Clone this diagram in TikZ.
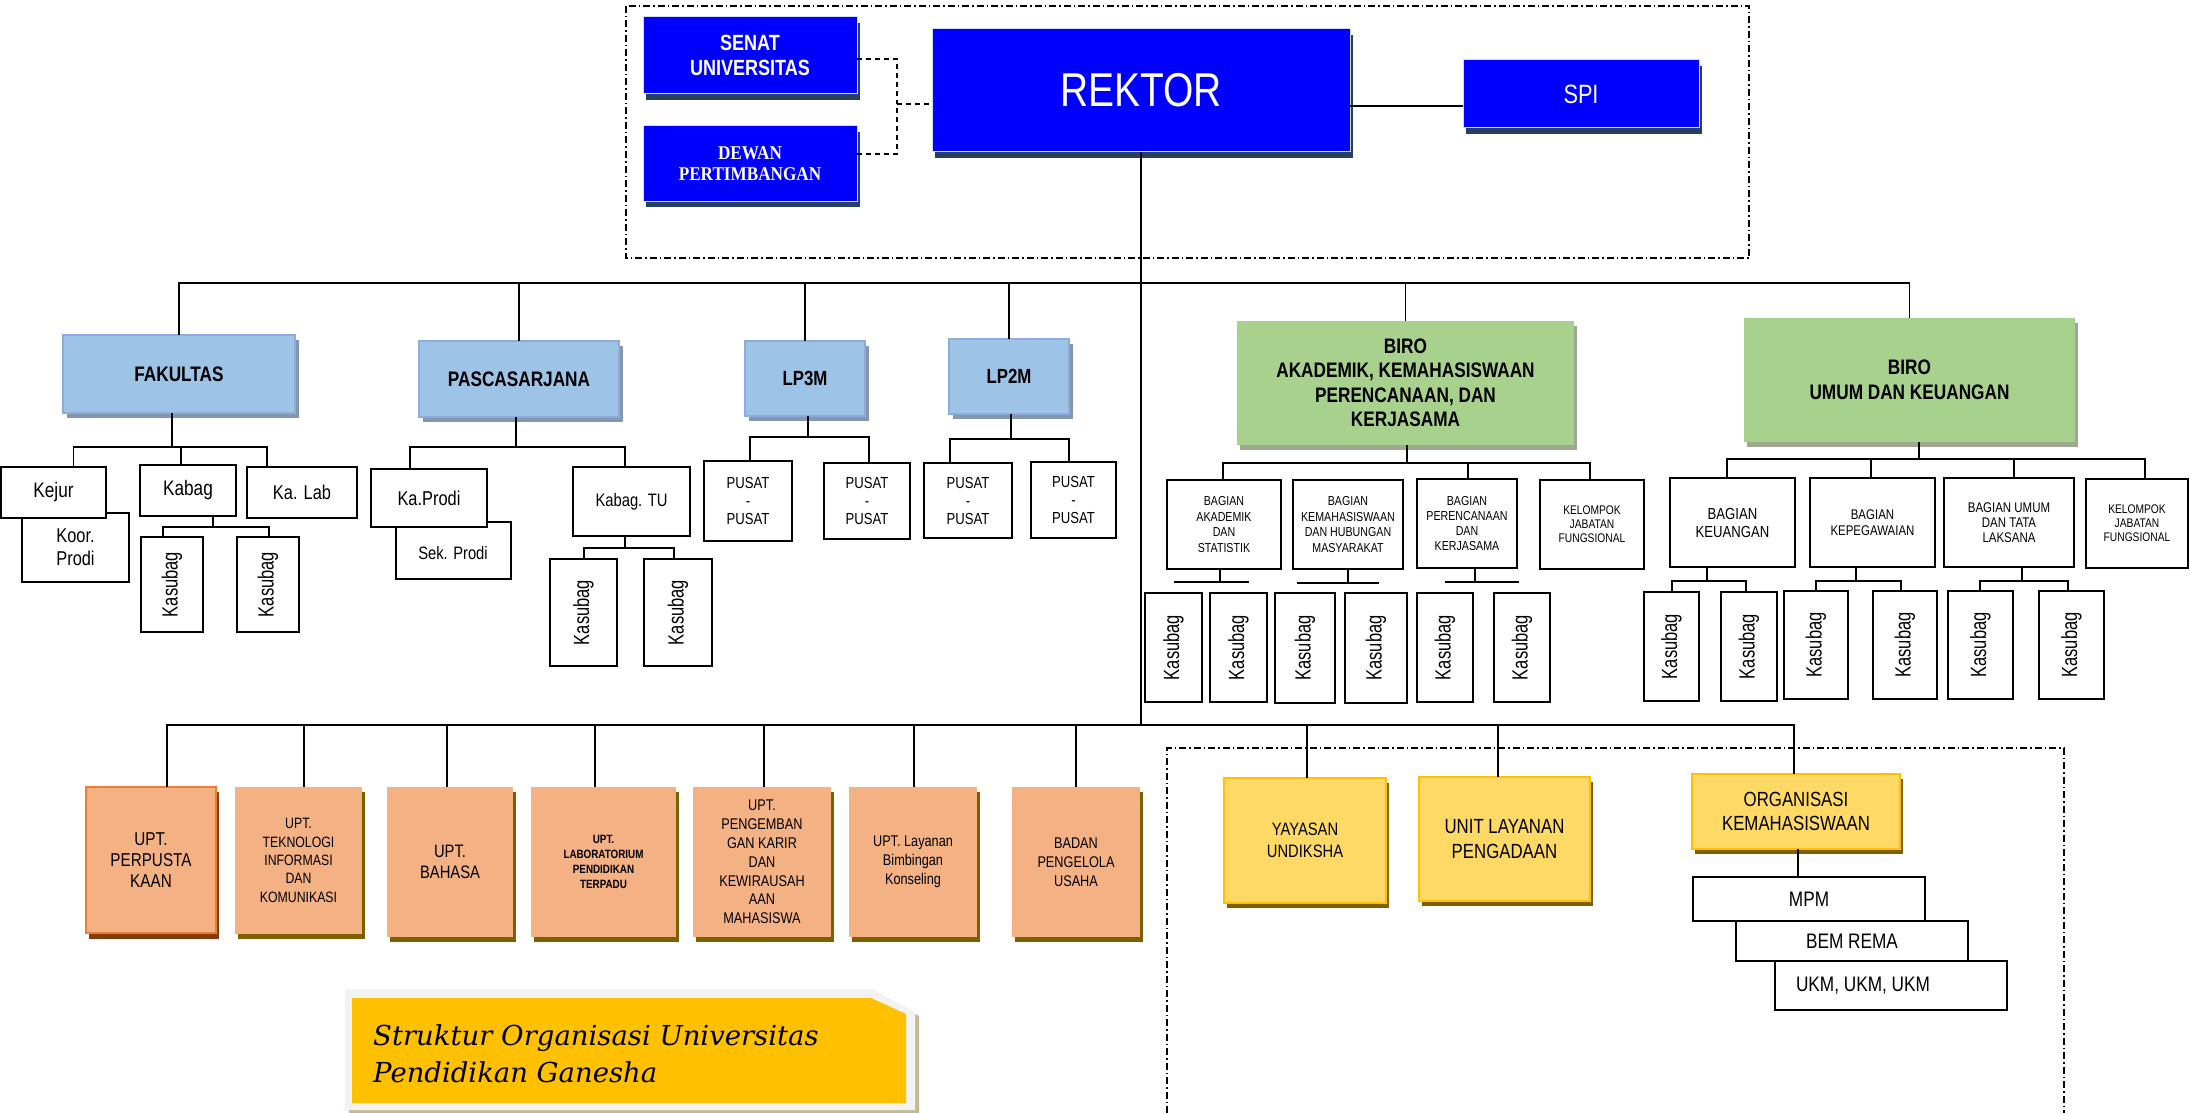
\documentclass[tikz,border=0pt]{standalone}
\usepackage{fontspec}
\usepackage{graphicx}
\setmainfont{Liberation Sans}
\newfontfamily\nar[FakeStretch=0.82]{Liberation Sans}
\newfontfamily\narr[FakeStretch=0.75]{Liberation Sans}
\newfontfamily\tmsn[FakeStretch=0.88]{Liberation Serif}
\newfontfamily\ttlf{DejaVu Serif}
\usetikzlibrary{shadows}
\newcommand\fsz[2]{\fontsize{#1}{#2}\selectfont}
\newcommand\bx[7]{\node[#2, minimum width={#5-#3}, minimum height={#6-#4}] (#1) at ({(#3+#5)/2},{(#4+#6)/2}) {#7};}
\newcommand\ksb{\rotatebox{90}{\narr\fsz{22}{24}Kasubag}}
\definecolor{bluefill}{HTML}{0000FF}
\definecolor{blueedge}{HTML}{D5DBF2}
\definecolor{blueshd}{HTML}{243F60}
\definecolor{lbfill}{HTML}{9DC3E6}
\definecolor{lbedge}{HTML}{8FAADC}
\definecolor{lbshd}{HTML}{8497B0}
\definecolor{grfill}{HTML}{A9D18E}
\definecolor{grshd}{HTML}{9DA890}
\definecolor{orfill}{HTML}{F4B183}
\definecolor{orshd}{HTML}{7F6000}
\definecolor{oroneedge}{HTML}{ED7D31}
\definecolor{oroneshd}{HTML}{843C0C}
\definecolor{yefill}{HTML}{FFD966}
\definecolor{yeedge}{HTML}{FFC000}
\definecolor{titlegrey}{HTML}{F2F2F2}
\definecolor{titleyel}{HTML}{FFC000}
\definecolor{titleshd}{HTML}{C9B98F}
\begin{document}
\begin{tikzpicture}[x=1pt,y=-1pt,
  base/.style={inner sep=0pt, outer sep=0pt, align=center},
  wb/.style={base, draw=black, line width=1.8pt, fill=white, font=\nar\fsz{21}{24}},
  bluebox/.style={base, fill=bluefill, draw=blueedge, line width=1pt, text=white,
    general shadow={fill=blueshd, shadow xshift=3pt, shadow yshift=-6pt}},
  lbbox/.style={base, fill=lbfill, draw=lbedge, line width=2.2pt, font=\nar\bfseries\fsz{21}{24},
    general shadow={fill=lbshd, shadow xshift=4pt, shadow yshift=-5pt}},
  grbox/.style={base, fill=grfill, font=\nar\bfseries\fsz{21}{24.5},
    general shadow={fill=grshd, shadow xshift=3pt, shadow yshift=-5pt}},
  orbox/.style={base, fill=orfill, font=\nar\fsz{15.5}{19},
    general shadow={fill=orshd, shadow xshift=3pt, shadow yshift=-5pt}},
  yebox/.style={base, fill=yefill, draw=yeedge, line width=2.4pt, font=\nar\fsz{20.5}{25},
    general shadow={fill=orshd, shadow xshift=3pt, shadow yshift=-5pt}},
  ln/.style={draw=black, line width=1.5pt},
  dsh/.style={draw=black, line width=2pt, dash pattern=on 5pt off 4pt},
  ddot/.style={draw=black, line width=1.5pt, dash pattern=on 7pt off 3pt on 1.5pt off 3pt}]
\useasboundingbox (0,0) rectangle (2190,1113);

% ---------- top frame ----------
\draw[ddot] (626,6) rectangle (1749,258);
\bx{senat}{bluebox, font=\nar\bfseries\fsz{22}{25}}{643}{17}{857}{94}{SENAT\\UNIVERSITAS}
\bx{dewan}{bluebox, font=\tmsn\bfseries\fsz{19.5}{21.5}}{643}{126}{857}{201}{DEWAN\\PERTIMBANGAN}
\bx{rektor}{bluebox, font=\nar\fsz{47.5}{50}}{932}{29}{1350}{152}{REKTOR}
\bx{spi}{bluebox, font=\nar\fsz{26.5}{28}}{1463}{60}{1699}{128}{SPI}
\coordinate (dj) at (897,104);
\draw[dsh] ([yshift=-3.5pt]senat.east) -| (dj);
\draw[dsh] ([yshift=9.5pt]dewan.east) -| (dj);
\draw[dsh] (dj) -- (dj -| rektor.west);
\draw[ln] ([yshift=-12pt]spi.west) -- ([yshift=-12pt]spi.west -| rektor.east);

% ---------- second level ----------
\bx{fak}{lbbox}{63}{335}{295}{413}{FAKULTAS}
\bx{pasca}{lbbox}{419}{341}{619}{417}{PASCASARJANA}
\bx{lpthree}{lbbox, font=\nar\bfseries\fsz{20.5}{24}}{745}{341}{865}{416}{LP3M}
\bx{lptwo}{lbbox, font=\nar\bfseries\fsz{20.5}{24}}{949}{339}{1069}{414}{LP2M}
\bx{biroA}{grbox}{1237}{321}{1574}{445}{BIRO\\AKADEMIK, KEMAHASISWAAN\\PERENCANAAN, DAN\\KERJASAMA}
\bx{biroU}{grbox}{1744}{318}{2075}{442}{BIRO\\UMUM DAN KEUANGAN}

\coordinate (busT) at (0,283);
\draw[ln] (fak.north) -- (fak.north |- busT) -- (biroU.north |- busT) -- (biroU.north);
\foreach \n in {pasca,lpthree,lptwo,biroA} \draw[ln] (\n.north) -- (\n.north |- busT);
\coordinate (busB) at (0,725);
\draw[ln] (rektor.south) -- (rektor.south |- busB);

% ---------- Fakultas ----------
\bx{koor}{wb, font=\nar\fsz{20}{23}}{22}{513}{129}{582}{Koor.\\Prodi}
\bx{kejur}{wb}{1}{467}{106}{518}{Kejur}
\bx{kabag}{wb}{140}{465}{236}{516}{Kabag}
\bx{kalab}{wb, font=\nar\fsz{20}{23}}{247}{467}{357}{518}{Ka. Lab}
\bx{ksa}{wb}{141}{537}{203}{632}{\ksb}
\bx{ksb}{wb}{237}{537}{299}{632}{\ksb}
\coordinate (fb) at (0,447);
\draw[ln] ([xshift=-7pt]fak.south) -- ([xshift=-7pt]fak.south |- fb);
\draw[ln] ([xshift=20pt]kejur.north) -- ([xshift=20pt]kejur.north |- fb) -- ([xshift=-35pt]kalab.north |- fb) -- ([xshift=-35pt]kalab.north);
\draw[ln] ([xshift=-7pt]kabag.north) -- ([xshift=-7pt]kabag.north |- fb);
\coordinate (kb) at (0,527);
\draw[ln] ([xshift=25pt]kabag.south) -- ([xshift=25pt]kabag.south |- kb);
\draw[ln] ([xshift=-9pt]ksa.north) -- ([xshift=-9pt]ksa.north |- kb) -- ([xshift=1pt]ksb.north |- kb) -- ([xshift=1pt]ksb.north);

% ---------- Pascasarjana ----------
\bx{sek}{wb}{396}{522}{511}{579}{}
\node[base, font=\nar\fsz{18}{20}] (sekT) at (453,553) {Sek. Prodi};
\bx{kaprodi}{wb, font=\nar\fsz{20}{23}}{371}{469}{487}{527}{Ka.Prodi}
\bx{kabagtu}{wb, font=\nar\fsz{18}{20}}{573}{467}{690}{536}{Kabag. TU}
\bx{ksc}{wb}{550}{559}{617}{666}{\ksb}
\bx{ksd}{wb}{644}{559}{712}{666}{\ksb}
\coordinate (pb) at (0,447);
\draw[ln] ([xshift=-3pt]pasca.south) -- ([xshift=-3pt]pasca.south |- pb);
\draw[ln] ([xshift=-19pt]kaprodi.north) -- ([xshift=-19pt]kaprodi.north |- pb) -- ([xshift=-6.5pt]kabagtu.north |- pb) -- ([xshift=-6.5pt]kabagtu.north);
\coordinate (tb) at (0,548);
\draw[ln] ([xshift=-6.5pt]kabagtu.south) -- ([xshift=-6.5pt]kabagtu.south |- tb);
\draw[ln] ([xshift=0.5pt]ksc.north) -- ([xshift=0.5pt]ksc.north |- tb) -- ([xshift=-4pt]ksd.north |- tb) -- ([xshift=-4pt]ksd.north);

% ---------- LP3M / LP2M ----------
\bx{pa}{wb, font=\nar\fsz{16}{18}}{704}{461}{792}{541}{PUSAT\\-\\PUSAT}
\bx{pb}{wb, font=\nar\fsz{16}{18}}{824}{463}{910}{539}{PUSAT\\-\\PUSAT}
\bx{pc}{wb, font=\nar\fsz{16}{18}}{924}{463}{1012}{538}{PUSAT\\-\\PUSAT}
\bx{pd}{wb, font=\nar\fsz{16}{18}}{1031}{462}{1116}{538}{PUSAT\\-\\PUSAT}
\coordinate (l3b) at (0,437);
\draw[ln] ([xshift=3pt]lpthree.south) -- ([xshift=3pt]lpthree.south |- l3b);
\draw[ln] ([xshift=2pt]pa.north) -- ([xshift=2pt]pa.north |- l3b) -- ([xshift=2pt]pb.north |- l3b) -- ([xshift=2pt]pb.north);
\coordinate (l2b) at (0,439);
\draw[ln] ([xshift=2pt]lptwo.south) -- ([xshift=2pt]lptwo.south |- l2b);
\draw[ln] ([xshift=-18pt]pc.north) -- ([xshift=-18pt]pc.north |- l2b) -- ([xshift=-4.5pt]pd.north |- l2b) -- ([xshift=-4.5pt]pd.north);

% ---------- Biro Akademik ----------
\bx{bAa}{wb, font=\nar\fsz{13}{15.5}}{1167}{480}{1281}{569}{BAGIAN\\AKADEMIK\\DAN\\STATISTIK}
\bx{bAb}{wb, font=\nar\fsz{13}{15.5}}{1293}{480}{1403}{569}{BAGIAN\\KEMAHASISWAAN\\DAN HUBUNGAN\\MASYARAKAT}
\bx{bAc}{wb, font=\nar\fsz{13}{15}}{1417}{479}{1517}{568}{BAGIAN\\PERENCANAAN\\DAN\\KERJASAMA}
\bx{bAd}{wb, font=\nar\fsz{12.5}{14}}{1540}{480}{1644}{569}{KELOMPOK\\JABATAN\\FUNGSIONAL}
\coordinate (ab) at (0,463);
\draw[ln] ([xshift=1.5pt]biroA.south) -- ([xshift=1.5pt]biroA.south |- ab);
\draw[ln] ([xshift=-1pt]bAa.north) -- ([xshift=-1pt]bAa.north |- ab) -- ([xshift=-2pt]bAd.north |- ab) -- ([xshift=-2pt]bAd.north);
\draw[ln] ([xshift=1pt]bAc.north) -- ([xshift=1pt]bAc.north |- ab);
\draw[ln] ([xshift=-4pt]bAa.south) -- ++(0,13) coordinate (hA1);
\draw[ln] ([xshift=-46pt]hA1) -- ([xshift=29pt]hA1);
\draw[ln] (bAb.south) -- ++(0,14) coordinate (hA2);
\draw[ln] ([xshift=-51pt]hA2) -- ([xshift=31pt]hA2);
\draw[ln] ([xshift=8pt]bAc.south) -- ++(0,14) coordinate (hA3);
\draw[ln] ([xshift=-30pt]hA3) -- ([xshift=44pt]hA3);
\bx{kAa}{wb}{1145}{593}{1202}{702}{\ksb}
\bx{kAb}{wb}{1210}{593}{1267}{702}{\ksb}
\bx{kAc}{wb}{1275}{593}{1335}{703}{\ksb}
\bx{kAd}{wb}{1345}{593}{1407}{703}{\ksb}
\bx{kAe}{wb}{1417}{593}{1473}{702}{\ksb}
\bx{kAf}{wb}{1494}{593}{1550}{702}{\ksb}

% ---------- Biro Umum ----------
\bx{bUa}{wb, font=\nar\fsz{16}{18}}{1670}{478}{1795}{567}{BAGIAN\\KEUANGAN}
\bx{bUb}{wb, font=\nar\fsz{14}{16}}{1810}{478}{1935}{567}{BAGIAN\\KEPEGAWAIAN}
\bx{bUc}{wb, font=\nar\fsz{14}{15}}{1944}{478}{2074}{567}{BAGIAN UMUM\\DAN TATA\\LAKSANA}
\bx{bUd}{wb, font=\nar\fsz{12.5}{14}}{2086}{479}{2188}{568}{KELOMPOK\\JABATAN\\FUNGSIONAL}
\coordinate (ub) at (0,459);
\draw[ln] ([xshift=9.5pt]biroU.south) -- ([xshift=9.5pt]biroU.south |- ub);
\draw[ln] ([xshift=-5.5pt]bUa.north) -- ([xshift=-5.5pt]bUa.north |- ub) -- ([xshift=8pt]bUd.north |- ub) -- ([xshift=8pt]bUd.north);
\draw[ln] ([xshift=-1.5pt]bUb.north) -- ([xshift=-1.5pt]bUb.north |- ub);
\draw[ln] ([xshift=5pt]bUc.north) -- ([xshift=5pt]bUc.north |- ub);
\bx{kUa}{wb}{1644}{592}{1699}{701}{\ksb}
\bx{kUb}{wb}{1721}{592}{1777}{701}{\ksb}
\bx{kUc}{wb}{1784}{591}{1848}{699}{\ksb}
\bx{kUd}{wb}{1873}{591}{1937}{699}{\ksb}
\bx{kUe}{wb}{1948}{591}{2013}{699}{\ksb}
\bx{kUf}{wb}{2039}{591}{2104}{699}{\ksb}
\coordinate (kub) at (0,581);
\draw[ln] ([xshift=-25.5pt]bUa.south) -- ([xshift=-25.5pt]bUa.south |- kub);
\draw[ln] ([xshift=0.5pt]kUa.north) -- ([xshift=0.5pt]kUa.north |- kub) -- ([xshift=-3pt]kUb.north |- kub) -- ([xshift=-3pt]kUb.north);
\draw[ln] ([xshift=-16.5pt]bUb.south) -- ([xshift=-16.5pt]bUb.south |- kub);
\draw[ln] (kUc.north) -- (kUc.north |- kub) -- ([xshift=-4pt]kUd.north |- kub) -- ([xshift=-4pt]kUd.north);
\draw[ln] ([xshift=13pt]bUc.south) -- ([xshift=13pt]bUc.south |- kub);
\draw[ln] ([xshift=-0.5pt]kUe.north) -- ([xshift=-0.5pt]kUe.north |- kub) -- ([xshift=-3.5pt]kUf.north |- kub) -- ([xshift=-3.5pt]kUf.north);

% ---------- UPT row ----------
\bx{ua}{orbox, draw=oroneedge, line width=2.5pt, font=\nar\fsz{18.6}{21},
  general shadow={fill=oroneshd, shadow xshift=3pt, shadow yshift=-6pt}}{86}{787}{216}{933}{UPT.\\PERPUSTA\\KAAN}
\bx{ub}{orbox, font=\nar\fsz{15}{18.3}}{235}{787}{362}{934}{UPT.\\TEKNOLOGI\\INFORMASI\\DAN\\KOMUNIKASI}
\bx{uc}{orbox, font=\nar\fsz{18}{20.7}}{387}{787}{513}{937}{UPT.\\BAHASA}
\bx{ud}{orbox, font=\nar\bfseries\fsz{12}{15}}{531}{787}{676}{937}{UPT.\\LABORATORIUM\\PENDIDIKAN\\TERPADU}
\bx{ue}{orbox, font=\nar\fsz{15.5}{18.8}}{693}{787}{831}{937}{UPT.\\PENGEMBAN\\GAN KARIR\\DAN\\KEWIRAUSAH\\AAN\\MAHASISWA}
\bx{uf}{orbox}{849}{787}{977}{937}{UPT. Layanan\\Bimbingan\\Konseling}
\bx{ug}{orbox}{1012}{787}{1140}{937}{BADAN\\PENGELOLA\\USAHA}

% ---------- bottom right ----------
\draw[ddot] (1167,1113) -- (1167,748) -- (2064,748) -- (2064,1113);
\bx{yay}{yebox, font=\nar\fsz{18}{22}}{1224}{778}{1386}{903}{YAYASAN\\UNDIKSHA}
\bx{ulp}{yebox}{1419}{777}{1590}{901}{UNIT LAYANAN\\PENGADAAN}
\bx{org}{yebox, font=\nar\fsz{20.5}{24.7}}{1692}{774}{1900}{849}{ORGANISASI\\KEMAHASISWAAN}
\bx{mpm}{wb}{1693}{877}{1925}{921}{MPM}
\bx{bem}{wb}{1736}{921}{1968}{961}{BEM REMA}
\bx{ukm}{wb}{1775}{961}{2007}{1010}{\hspace*{-56pt}UKM, UKM, UKM}
\draw[ln] ([xshift=2pt]org.south) -- ([xshift=2pt]org.south |- mpm.north);

% bottom bus
\draw[ln] ([xshift=16pt]ua.north) -- ([xshift=16pt]ua.north |- busB) -- ([xshift=-2pt]org.north |- busB) -- ([xshift=-2pt]org.north);
\draw[ln] ([xshift=5.5pt]ub.north) -- ([xshift=5.5pt]ub.north |- busB);
\draw[ln] ([xshift=-3pt]uc.north) -- ([xshift=-3pt]uc.north |- busB);
\draw[ln] ([xshift=-8.5pt]ud.north) -- ([xshift=-8.5pt]ud.north |- busB);
\draw[ln] ([xshift=2pt]ue.north) -- ([xshift=2pt]ue.north |- busB);
\draw[ln] ([xshift=1pt]uf.north) -- ([xshift=1pt]uf.north |- busB);
\draw[ln] (ug.north) -- (ug.north |- busB);
\draw[ln] ([xshift=2pt]yay.north) -- ([xshift=2pt]yay.north |- busB);
\draw[ln] ([xshift=-6.5pt]ulp.north) -- ([xshift=-6.5pt]ulp.north |- busB);

% ---------- title ----------
\fill[titleshd] (349,993) -- (876,993) -- (919,1016) -- (919,1113) -- (349,1113) -- cycle;
\fill[titlegrey] (345,989) -- (872,989) -- (915,1012) -- (915,1110) -- (345,1110) -- cycle;
\fill[titleyel] (352,998) -- (871,998) -- (906,1014) -- (906,1103) -- (352,1103) -- cycle;
\node[anchor=west, align=left, inner sep=0pt, font=\ttlf\itshape\fsz{27.5}{37}] (ttl) at (373,1054) {Struktur Organisasi Universitas\\Pendidikan Ganesha};
\end{tikzpicture}
\end{document}
